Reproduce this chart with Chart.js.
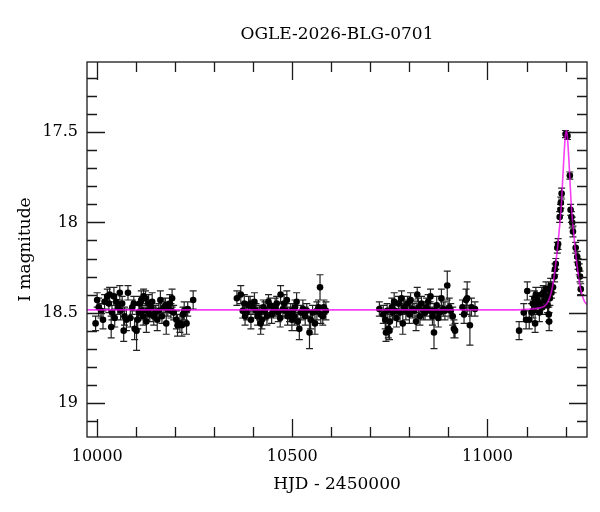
<!DOCTYPE html>
<html lang="en">
<head>
<meta charset="UTF-8">
<title>OGLE-2026-BLG-0701</title>
<style>
    body { margin: 0; background: #fff; }
    #wrap { width: 600px; height: 512px; }
</style>
</head>
<body>
<div id="wrap"><canvas id="lc" width="600" height="512"></canvas></div>

<script src="https://cdn.jsdelivr.net/npm/chart.js"></script>
<script>
// photometry, HJD - 2450000 / I mag / error, one set per season
const s1Hjd = [
    9996, 10000, 10004, 10010, 10015, 10019, 10026, 10030,
    10032, 10036, 10038, 10043, 10045, 10049, 10053, 10058,
    10060, 10064, 10068, 10070, 10075, 10079, 10085, 10090,
    10094, 10096, 10101, 10104, 10107, 10109, 10113, 10115,
    10118, 10119, 10124, 10126, 10128, 10132, 10135, 10138,
    10141, 10145, 10149, 10154, 10158, 10162, 10166, 10171,
    10175, 10177, 10181, 10186, 10189, 10192, 10196, 10203,
    10206, 10212, 10217, 10220, 10223, 10229, 10232, 10246
];
const s1Mag = [
    18.56, 18.43, 18.47, 18.49, 18.54, 18.44, 18.41, 18.45,
    18.40, 18.58, 18.50, 18.41, 18.53, 18.44, 18.47, 18.39,
    18.49, 18.45, 18.60, 18.52, 18.54, 18.39, 18.53, 18.47,
    18.45, 18.59, 18.60, 18.54, 18.50, 18.45, 18.43, 18.49,
    18.52, 18.41, 18.42, 18.55, 18.49, 18.45, 18.51, 18.47,
    18.44, 18.52, 18.50, 18.54, 18.49, 18.43, 18.52, 18.47,
    18.46, 18.56, 18.48, 18.45, 18.49, 18.42, 18.50, 18.54,
    18.57, 18.56, 18.57, 18.51, 18.49, 18.56, 18.48, 18.43
];
const s1Err = [
    0.04, 0.04, 0.05, 0.04, 0.05, 0.04, 0.04, 0.05,
    0.04, 0.06, 0.04, 0.05, 0.05, 0.04, 0.04, 0.04,
    0.05, 0.04, 0.06, 0.05, 0.06, 0.04, 0.05, 0.04,
    0.04, 0.06, 0.11, 0.05, 0.04, 0.04, 0.05, 0.04,
    0.05, 0.04, 0.04, 0.06, 0.04, 0.05, 0.04, 0.04,
    0.05, 0.05, 0.04, 0.06, 0.04, 0.05, 0.04, 0.05,
    0.04, 0.06, 0.04, 0.05, 0.04, 0.05, 0.04, 0.05,
    0.06, 0.05, 0.06, 0.04, 0.05, 0.06, 0.04, 0.05
];

const s2Hjd = [
    10358, 10368, 10373, 10377, 10379, 10383, 10388, 10392,
    10394, 10399, 10403, 10407, 10411, 10416, 10419, 10422,
    10426, 10430, 10435, 10439, 10443, 10447, 10452, 10456,
    10460, 10464, 10469, 10470, 10476, 10479, 10482, 10486,
    10488, 10493, 10496, 10499, 10501, 10505, 10507, 10511,
    10514, 10518, 10522, 10527, 10533, 10537, 10544, 10547,
    10552, 10558, 10563, 10567, 10571, 10573, 10578, 10581,
    10586
];
const s2Mag = [
    18.42, 18.40, 18.49, 18.45, 18.52, 18.50, 18.46, 18.45,
    18.54, 18.47, 18.44, 18.49, 18.52, 18.50, 18.56, 18.54,
    18.47, 18.49, 18.52, 18.44, 18.46, 18.51, 18.49, 18.47,
    18.45, 18.50, 18.53, 18.40, 18.48, 18.45, 18.49, 18.43,
    18.52, 18.51, 18.50, 18.54, 18.49, 18.52, 18.47, 18.44,
    18.55, 18.59, 18.50, 18.48, 18.52, 18.49, 18.61, 18.54,
    18.50, 18.56, 18.49, 18.47, 18.36, 18.51, 18.52, 18.47,
    18.49
];
const s2Err = [
    0.04, 0.05, 0.04, 0.05, 0.05, 0.04, 0.05, 0.04,
    0.05, 0.04, 0.05, 0.04, 0.05, 0.04, 0.06, 0.05,
    0.04, 0.05, 0.05, 0.04, 0.04, 0.05, 0.04, 0.05,
    0.04, 0.05, 0.05, 0.05, 0.04, 0.05, 0.04, 0.05,
    0.05, 0.04, 0.05, 0.06, 0.04, 0.05, 0.04, 0.05,
    0.05, 0.06, 0.04, 0.05, 0.05, 0.04, 0.09, 0.05,
    0.04, 0.06, 0.05, 0.04, 0.07, 0.05, 0.05, 0.04,
    0.05
];

const s3Hjd = [
    10723, 10733, 10738, 10740, 10743, 10746, 10749, 10750,
    10755, 10757, 10761, 10763, 10767, 10772, 10776, 10780,
    10783, 10786, 10791, 10795, 10800, 10803, 10808, 10812,
    10817, 10820, 10823, 10827, 10831, 10836, 10840, 10844,
    10848, 10853, 10854, 10859, 10863, 10865, 10870, 10874,
    10878, 10882, 10887, 10891, 10897, 10902, 10906, 10911,
    10914, 10917, 10936, 10940, 10945, 10948, 10955, 10959,
    10968
];
const s3Mag = [
    18.48, 18.51, 18.54, 18.61, 18.49, 18.59, 18.60, 18.55,
    18.47, 18.50, 18.44, 18.49, 18.53, 18.45, 18.50, 18.42,
    18.56, 18.47, 18.49, 18.45, 18.51, 18.43, 18.48, 18.49,
    18.55, 18.40, 18.47, 18.52, 18.45, 18.49, 18.50, 18.47,
    18.44, 18.49, 18.41, 18.52, 18.61, 18.49, 18.46, 18.53,
    18.50, 18.42, 18.48, 18.49, 18.35, 18.47, 18.49, 18.52,
    18.59, 18.60, 18.47, 18.51, 18.43, 18.42, 18.57, 18.47,
    18.48
];
const s3Err = [
    0.04, 0.05, 0.05, 0.05, 0.04, 0.05, 0.05, 0.04,
    0.05, 0.04, 0.05, 0.04, 0.05, 0.04, 0.05, 0.04,
    0.06, 0.04, 0.05, 0.04, 0.05, 0.04, 0.05, 0.04,
    0.05, 0.04, 0.05, 0.05, 0.04, 0.05, 0.04, 0.05,
    0.04, 0.05, 0.04, 0.05, 0.09, 0.04, 0.05, 0.05,
    0.04, 0.05, 0.04, 0.05, 0.08, 0.05, 0.04, 0.05,
    0.05, 0.04, 0.04, 0.05, 0.06, 0.09, 0.11, 0.05,
    0.04
];

const s4Hjd = [
    11081, 11093, 11099, 11102, 11107, 11113, 11116, 11117,
    11120, 11122, 11124, 11126, 11128, 11133, 11134, 11139,
    11141, 11143, 11147, 11150, 11151, 11154, 11156, 11157,
    11158, 11160, 11162, 11164, 11168, 11172, 11173, 11175,
    11179, 11181, 11185, 11187, 11188, 11190, 11200, 11205,
    11211, 11213, 11215, 11217, 11219, 11226, 11230, 11232,
    11235, 11237, 11239
];
const s4Mag = [
    18.60, 18.50, 18.54, 18.38, 18.54, 18.50, 18.45, 18.49,
    18.42, 18.56, 18.40, 18.46, 18.43, 18.50, 18.45, 18.40,
    18.47, 18.39, 18.43, 18.37, 18.41, 18.46, 18.37, 18.51,
    18.55, 18.42, 18.35, 18.39, 18.36, 18.30, 18.26, 18.23,
    18.14, 18.12, 17.97, 17.93, 17.89, 17.84, 17.51, 17.52,
    17.74, 17.93, 17.97, 18.00, 18.05, 18.14, 18.19, 18.23,
    18.26, 18.30, 18.37
];
const s4Err = [
    0.05, 0.05, 0.05, 0.05, 0.05, 0.05, 0.04, 0.04,
    0.04, 0.05, 0.04, 0.04, 0.04, 0.05, 0.04, 0.04,
    0.04, 0.04, 0.04, 0.04, 0.04, 0.04, 0.04, 0.04,
    0.05, 0.04, 0.04, 0.03, 0.03, 0.03, 0.03, 0.03,
    0.03, 0.03, 0.03, 0.03, 0.03, 0.03, 0.02, 0.02,
    0.02, 0.03, 0.03, 0.03, 0.03, 0.03, 0.03, 0.03,
    0.03, 0.03, 0.03
];

// model curve
const modelHjd = [9974, 11050, 11100, 11130, 11145, 11155, 11162, 11168, 11172, 11176, 11180,
    11184, 11187, 11190, 11193, 11195, 11198, 11200, 11202, 11204, 11206, 11209, 11211,
    11214, 11217, 11220, 11224, 11228, 11232, 11236, 11242, 11249, 11255];
const modelMag = [18.485, 18.485, 18.482, 18.475, 18.465, 18.44, 18.40, 18.34, 18.28, 18.21, 18.13,
    18.04, 17.97, 17.88, 17.75, 17.67, 17.56, 17.51, 17.49, 17.51, 17.56, 17.67, 17.75,
    17.88, 17.97, 18.04, 18.13, 18.21, 18.28, 18.34, 18.40, 18.44, 18.455];

// axis ticks
const xTicks = [10000, 10100, 10200, 10300, 10400, 10500, 10600, 10700, 10800, 10900, 11000, 11100, 11200];
const xMajor = [10000, 10500, 11000];
const yTicks = [17.2, 17.3, 17.4, 17.5, 17.6, 17.7, 17.8, 17.9, 18, 18.1, 18.2, 18.3, 18.4,
    18.5, 18.6, 18.7, 18.8, 18.9, 19, 19.1];
const yMajor = [17.5, 18, 18.5, 19];
const yLabels = ['17.5', '18', '18.5', '19'];

const seasons = [
    { hjd: s1Hjd, mag: s1Mag, err: s1Err },
    { hjd: s2Hjd, mag: s2Mag, err: s2Err },
    { hjd: s3Hjd, mag: s3Mag, err: s3Err },
    { hjd: s4Hjd, mag: s4Mag, err: s4Err }
];

const obsPoints = [];
seasons.forEach(s => s.hjd.forEach((t, i) => obsPoints.push({ x: t, y: s.mag[i] })));
const modelPoints = modelHjd.map((t, i) => ({ x: t, y: modelMag[i] }));

const serif = '"DejaVu Serif", "Liberation Serif", serif';
const ink = '#1a1a1a';

// error bars under the points, frame, inward ticks and all text on top
const lcPlugin = {
    id: 'lightcurve',
    beforeDatasetsDraw(chart) {
        const { ctx, chartArea, scales: { x, y } } = chart;
        ctx.save();
        ctx.beginPath();
        ctx.rect(chartArea.left, chartArea.top, chartArea.width, chartArea.height);
        ctx.clip();
        ctx.strokeStyle = '#222';
        ctx.lineWidth = 1.2;
        ctx.beginPath();
        seasons.forEach(s => s.hjd.forEach((t, i) => {
            const px = x.getPixelForValue(t);
            const top = y.getPixelForValue(s.mag[i] - s.err[i]);
            const bot = y.getPixelForValue(s.mag[i] + s.err[i]);
            ctx.moveTo(px, top); ctx.lineTo(px, bot);
            ctx.moveTo(px - 3.5, top); ctx.lineTo(px + 3.5, top);
            ctx.moveTo(px - 3.5, bot); ctx.lineTo(px + 3.5, bot);
        }));
        ctx.stroke();
        ctx.restore();
    },
    afterDraw(chart) {
        const { ctx, chartArea: a, scales: { x, y } } = chart;
        ctx.save();
        ctx.strokeStyle = ink;
        ctx.lineWidth = 1.3;
        ctx.strokeRect(a.left, a.top, a.width, a.height);

        ctx.beginPath();
        xTicks.forEach(v => {
            const px = Math.round(x.getPixelForValue(v)) + 0.5;
            const len = xMajor.includes(v) ? 18 : 10;
            ctx.moveTo(px, a.bottom); ctx.lineTo(px, a.bottom - len);
            ctx.moveTo(px, a.top); ctx.lineTo(px, a.top + len);
        });
        yTicks.forEach(v => {
            const py = Math.round(y.getPixelForValue(v)) + 0.5;
            const len = yMajor.includes(v) ? 18 : 10;
            ctx.moveTo(a.left, py); ctx.lineTo(a.left + len, py);
            ctx.moveTo(a.right, py); ctx.lineTo(a.right - len, py);
        });
        ctx.stroke();

        ctx.fillStyle = '#000';
        ctx.font = '16px ' + serif;
        ctx.textAlign = 'center';
        ctx.textBaseline = 'middle';
        xMajor.forEach(v => ctx.fillText(String(v), x.getPixelForValue(v), 457));
        ctx.textAlign = 'right';
        yMajor.forEach((v, i) => ctx.fillText(yLabels[i], 78, y.getPixelForValue(v)));

        ctx.font = '17px ' + serif;
        ctx.textAlign = 'center';
        ctx.fillText('OGLE-2026-BLG-0701', (a.left + a.right) / 2, 35);
        ctx.fillText('HJD - 2450000', (a.left + a.right) / 2, 485);
        ctx.translate(26, (a.top + a.bottom) / 2);
        ctx.rotate(-Math.PI / 2);
        ctx.fillText('I magnitude', 0, 0);
        ctx.restore();
    }
};

const chart = new Chart(document.getElementById('lc'), {
    type: 'scatter',
    data: {
        datasets: [
            {
                label: 'model',
                data: modelPoints,
                showLine: true,
                borderColor: 'rgba(240, 0, 240, 0.75)',
                borderWidth: 1.6,
                pointRadius: 0,
                cubicInterpolationMode: 'monotone',
                order: 0
            },
            {
                label: 'OGLE I',
                data: obsPoints,
                pointRadius: 3.3,
                pointBackgroundColor: '#000',
                pointBorderWidth: 0,
                order: 1
            }
        ]
    },
    options: {
        responsive: false,
        animation: false,
        layout: { padding: { left: 87, right: 13, top: 62, bottom: 75 } },
        plugins: {
            legend: { display: false },
            title: { display: false },
            tooltip: { enabled: false }
        },
        scales: {
            x: { type: 'linear', min: 9974, max: 11255, display: false },
            y: { type: 'linear', reverse: true, min: 17.11, max: 19.19, display: false }
        }
    },
    plugins: [lcPlugin]
});
</script>
</body>
</html>
